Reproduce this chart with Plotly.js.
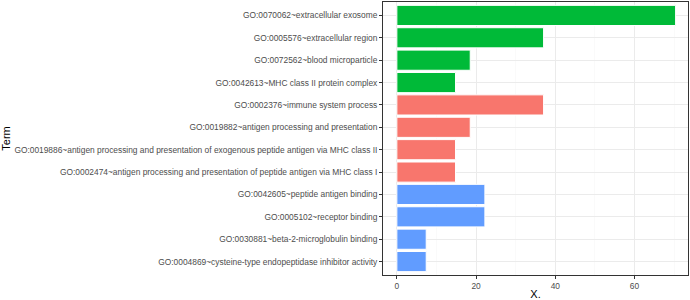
<!DOCTYPE html>
<html>
<head>
<meta charset="utf-8">
<script src="https://cdn.plot.ly/plotly-3.0.1.min.js"></script>
<style>html,body{margin:0;padding:0;background:#fff;}#chart{width:690px;height:300px;}</style>
</head>
<body>
<div id="chart"></div>
<script>
const terms = [
  "GO:0070062~extracellular exosome",
  "GO:0005576~extracellular region",
  "GO:0072562~blood microparticle",
  "GO:0042613~MHC class II protein complex",
  "GO:0002376~immune system process",
  "GO:0019882~antigen processing and presentation",
  "GO:0019886~antigen processing and presentation of exogenous peptide antigen via MHC class II",
  "GO:0002474~antigen processing and presentation of peptide antigen via MHC class I",
  "GO:0042605~peptide antigen binding",
  "GO:0005102~receptor binding",
  "GO:0030881~beta-2-microglobulin binding",
  "GO:0004869~cysteine-type endopeptidase inhibitor activity"
];
const values = [70.37, 37.04, 18.52, 14.81, 37.04, 18.52, 14.81, 14.81, 22.22, 22.22, 7.41, 7.41];
const groups = ["CC","CC","CC","CC","BP","BP","BP","BP","MF","MF","MF","MF"];
const groupColors = {BP: "#F8766D", CC: "#00BA38", MF: "#619CFF"};

const trace = {
  type: "bar",
  orientation: "h",
  x: values,
  y: terms,
  width: 0.9,
  marker: {color: groups.map(g => groupColors[g]), line: {color: "#FFFFFF", width: 1}},
  hoverinfo: "x+y",
  showlegend: false
};

const layout = {
  width: 690, height: 300,
  margin: {l: 383, r: 2, t: 2, b: 25},
  paper_bgcolor: "#FFFFFF", plot_bgcolor: "#FFFFFF",
  font: {family: "Liberation Sans, Arial, sans-serif", size: 8.4, color: "#4D4D4D"},
  bargap: 0.1,
  xaxis: {
    range: [-3.5, 73.5], tickvals: [0, 20, 40, 60], ticks: "outside", ticklen: 3, tickcolor: "#333333",
    showgrid: true, gridcolor: "#EBEBEB", gridwidth: 1, zeroline: false,
    minor: {tickvals: [10, 30, 50, 70], showgrid: true, gridcolor: "#F5F5F5", gridwidth: 0.5, ticks: ""},
    showline: true, mirror: true, linecolor: "#333333", linewidth: 1,
    tickfont: {size: 8.4, color: "#4D4D4D"},
    title: {text: "X.", font: {size: 11, color: "#000000"}, standoff: 2}
  },
  yaxis: {
    type: "category", categoryorder: "array", categoryarray: terms,
    range: [11.6, -0.6], ticks: "outside", ticklen: 3, tickcolor: "#333333",
    showgrid: true, gridcolor: "#EBEBEB", gridwidth: 1, zeroline: false,
    showline: true, mirror: true, linecolor: "#333333", linewidth: 1,
    tickfont: {size: 8.4, color: "#4D4D4D"},
    title: {text: "Term", font: {size: 11, color: "#000000"}, standoff: 2}
  }
};

Plotly.newPlot("chart", [trace], layout, {displayModeBar: false, staticPlot: true});
</script>
</body>
</html>
